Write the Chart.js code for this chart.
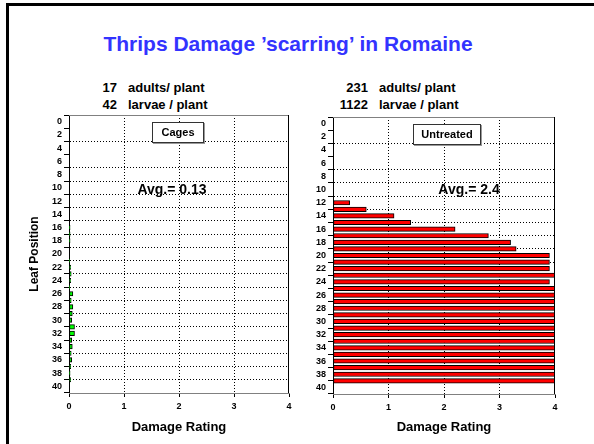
<!DOCTYPE html>
<html>
<head>
<meta charset="utf-8">
<script src="https://cdn.jsdelivr.net/npm/chart.js@4/dist/chart.umd.min.js"></script>
<style>
  html, body { margin: 0; padding: 0; background: #fff; }
  body { width: 594px; height: 444px; position: relative; overflow: hidden; font-family: Arial, "Liberation Sans", sans-serif; }
  .frame { position: absolute; left: 6px; top: 3px; width: 700px; height: 600px; border-left: 3px solid #000; border-top: 3px solid #000; }
  canvas { position: absolute; }
  .lbl { position: absolute; font-weight: bold; color: #000; white-space: nowrap; }
  .title { left: -9px; width: 594px; top: 32px; text-align: center; font-size: 21px; color: #3333ff; }
  .count { font-size: 13px; }
  .count .n { display: inline-block; text-align: right; }
  .count .t { display: inline-block; margin-left: 11px; }
  .tag { position: absolute; border: 1.5px solid #333; background: #fff; box-shadow: 1px 1px 0 #999; font-weight: bold; font-size: 11px; text-align: center; box-sizing: border-box; }
  .avg { transform: translate(-50%, -50%); font-size: 14px; }
</style>
</head>
<body>
<div class="frame"></div>
<div class="lbl title" id="title"></div>
<div class="lbl count" id="cnt0" style="left:90px; top:80px;"></div>
<div class="lbl count" id="cnt1" style="left:339px; top:80px;"></div>
<canvas id="cages" width="300" height="344" style="left:0; top:100px;"></canvas>
<canvas id="untreated" width="294" height="344" style="left:300px; top:100px;"></canvas>
<div class="tag" id="tag0" style="left:152px; top:122px; width:52px; height:21px; line-height:18px;"></div>
<div class="tag" id="tag1" style="left:413px; top:124px; width:68px; height:21px; line-height:18px;"></div>
<div class="lbl avg" id="avg0" style="left:172px; top:189px;"></div>
<div class="lbl avg" id="avg1" style="left:469px; top:189px;"></div>
<script>
const chartTitle = 'Thrips Damage \u2019scarring\u2019 in Romaine';
const groupNames = ['Cages', 'Untreated'];
const adultsPerPlant = [17, 231];
const larvaePerPlant = [42, 1122];
const averages = ['0.13', '2.4'];

// leaf position -> damage rating
const cagePositions = [16, 17, 18, 21, 22, 23, 24, 25, 26, 27, 28, 29, 30, 31, 32, 33, 34, 35, 36, 37, 38, 39];
const cageDamage = [0.02, 0.02, 0.02, 0.01, 0.03, 0.04, 0.03, 0.01, 0.07, 0.04, 0.07, 0.06, 0.05, 0.1, 0.1, 0.05, 0.06, 0.04, 0.05, 0.03, 0.02, 0.03];
const untreatedPositions = [12, 13, 14, 15, 16, 17, 18, 19, 20, 21, 22, 23, 24, 25, 26, 27, 28, 29, 30, 31, 32, 33, 34, 35, 36, 37, 38, 39];
const untreatedDamage = [0.3, 0.6, 1.1, 1.4, 2.2, 2.8, 3.2, 3.3, 3.9, 3.9, 3.9, 4, 3.9, 4, 4, 4, 4, 4, 4, 4, 4, 4, 4, 4, 4, 4, 4, 4];

const leafTicks = { min: 0, max: 40, step: 2 };
const ratingTicks = { min: 0, max: 4, step: 1 };

document.getElementById('title').textContent = chartTitle;
[0, 1].forEach(function(i) {
    const w = i === 0 ? 27 : 29;
    document.getElementById('cnt' + i).innerHTML =
        '<div><span class="n" style="width:' + w + 'px">' + adultsPerPlant[i] + '</span><span class="t">adults/ plant</span></div>' +
        '<div style="margin-top:2px"><span class="n" style="width:' + w + 'px">' + larvaePerPlant[i] + '</span><span class="t">larvae / plant</span></div>';
    document.getElementById('tag' + i).textContent = groupNames[i];
    document.getElementById('avg' + i).textContent = 'Avg.= ' + averages[i];
});

// top and right frame of the plot area
const plotFrame = {
    id: 'plotFrame',
    afterDraw(chart) {
        const a = chart.chartArea, c = chart.ctx;
        c.save();
        c.lineWidth = 1;
        c.setLineDash([]);
        c.strokeStyle = '#808080';
        c.beginPath(); c.moveTo(a.left, a.top + 0.5); c.lineTo(a.right, a.top + 0.5); c.stroke();
        c.strokeStyle = '#000';
        c.beginPath(); c.moveTo(a.right - 0.5, a.top); c.lineTo(a.right - 0.5, a.bottom); c.stroke();
        c.restore();
    }
};

function makeChart(id, positions, values, fill, opts) {
    const tickFont = { family: 'Arial, "Liberation Sans"', size: 9, weight: 'bold' };
    const edgeHidden = function(ctx) {
        const v = ctx.tick ? ctx.tick.value : null;
        return (v === leafTicks.min || v === leafTicks.max || v === ratingTicks.min || v === ratingTicks.max) ? 'rgba(0,0,0,0)' : '#000';
    };
    return new Chart(document.getElementById(id), {
        type: 'bar',
        data: {
            datasets: [{
                data: positions.map((p, i) => ({ x: values[i], y: p })),
                backgroundColor: fill,
                borderColor: '#000',
                borderWidth: 1,
                borderSkipped: false,
                barThickness: 4.5
            }]
        },
        options: {
            indexAxis: 'y',
            responsive: false,
            animation: false,
            layout: { padding: { top: opts.padTop, right: opts.padRight, left: 0, bottom: 0 } },
            plugins: { legend: { display: false }, tooltip: { enabled: false } },
            scales: {
                y: {
                    type: 'linear',
                    reverse: true,
                    min: leafTicks.min,
                    max: leafTicks.max,
                    afterFit: function(s) { s.width = opts.yWidth; },
                    ticks: { stepSize: leafTicks.step, autoSkip: false, font: tickFont, color: '#000', padding: 2 },
                    grid: { color: edgeHidden, tickColor: '#000', tickLength: 5, lineWidth: 1, tickBorderDash: [] },
                    border: { color: '#000', width: 1, dash: [1, 2] },
                    title: {
                        display: opts.yTitle !== '',
                        text: opts.yTitle,
                        color: '#000',
                        font: { family: 'Arial, "Liberation Sans"', size: 12, weight: 'bold' },
                        padding: { top: 27, bottom: 0 }
                    }
                },
                x: {
                    type: 'linear',
                    min: ratingTicks.min,
                    max: ratingTicks.max,
                    afterFit: function(s) { s.height = opts.xHeight; },
                    ticks: { stepSize: ratingTicks.step, font: tickFont, color: '#000', padding: 4 },
                    grid: { color: edgeHidden, tickColor: '#000', tickLength: 4, lineWidth: 1, tickBorderDash: [] },
                    border: { color: '#808080', width: 1, dash: [1, 2] },
                    title: {
                        display: true,
                        text: 'Damage Rating',
                        color: '#000',
                        font: { family: 'Arial, "Liberation Sans"', size: 13, weight: 'bold' },
                        padding: { top: 0, bottom: 9 }
                    }
                }
            }
        },
        plugins: [plotFrame]
    });
}

makeChart('cages', cagePositions, cageDamage, '#00ff00',
    { padTop: 15, padRight: 11, yWidth: 69, xHeight: 51, yTitle: 'Leaf Position' });
makeChart('untreated', untreatedPositions, untreatedDamage, '#ff0000',
    { padTop: 17, padRight: 39, yWidth: 33, xHeight: 50, yTitle: '' });
</script>
</body>
</html>
